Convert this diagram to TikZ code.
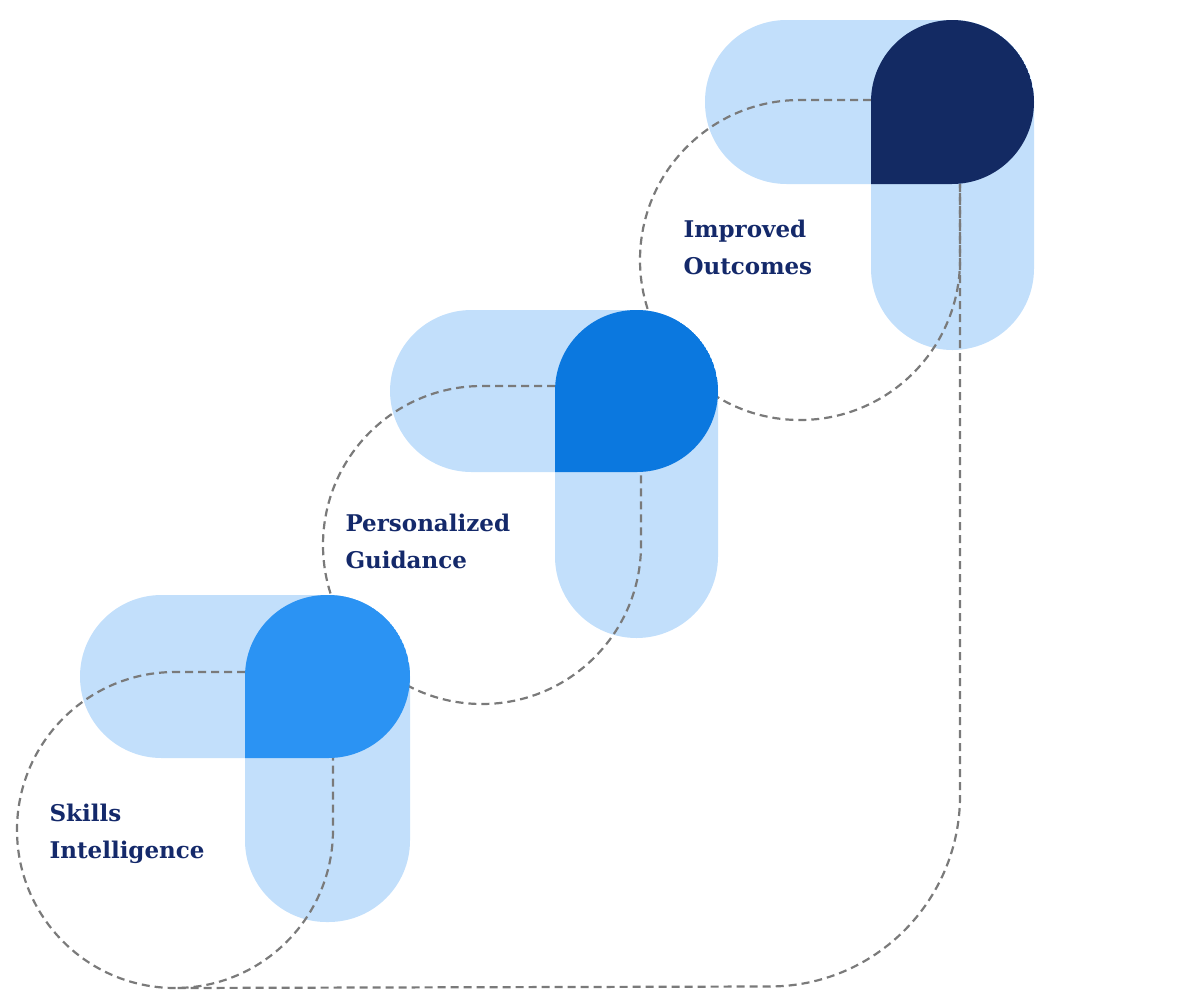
\documentclass[tikz,border=0pt]{standalone}
\usepackage{fontspec}
\setmainfont{DejaVu Serif}
\definecolor{pale}{HTML}{C2DFFB}
\definecolor{stepone}{HTML}{2B93F3}
\definecolor{steptwo}{HTML}{0B78DF}
\definecolor{stepthree}{HTML}{132A63}
\definecolor{navy}{HTML}{14296A}
\definecolor{trail}{HTML}{7A7A7A}

\begin{document}
\begin{tikzpicture}[x=1pt,y=-1pt,
  pill/.style={fill=pale,rounded corners=81.5},
  loop/.style={draw=trail,line width=2.2pt,dash pattern=on 8pt off 5pt},
  caption/.style={anchor=north west,align=left,text=navy,font=\fontsize{23}{37}\selectfont\bfseries}]

\useasboundingbox (0,0) rectangle (1200,994);

% light pills
\fill[pill] (80,595) rectangle (410,758);
\fill[pill] (245,595) rectangle (410,922);
\fill[pill] (390,310) rectangle (718,472);
\fill[pill] (555,310) rectangle (718,638);
\fill[pill] (705,20) rectangle (1034,184);
\fill[pill] (871,20) rectangle (1034,350);

% dashed trail
\draw[loop] (245,672) -- (175,672) arc[start angle=270,end angle=0,radius=158] -- (333,758);
\draw[loop] (555,386) -- (482,386) arc[start angle=270,end angle=0,radius=159] -- (641,472);
\draw[loop] (871,100) -- (800,100) arc[start angle=270,end angle=0,radius=160] -- (960,184);
\draw[loop,rounded corners=190] (960,184) -- (960,986) -- (175,988);

% dark corners
\begin{scope}
  \clip[rounded corners=81.5] (80,595) rectangle (410,758);
  \fill[stepone,rounded corners=81.5] (245,595) rectangle (410,922);
\end{scope}
\begin{scope}
  \clip[rounded corners=81] (390,310) rectangle (718,472);
  \fill[steptwo,rounded corners=81] (555,310) rectangle (718,638);
\end{scope}
\begin{scope}
  \clip[rounded corners=82] (705,20) rectangle (1034,184);
  \fill[stepthree,rounded corners=81.5] (871,20) rectangle (1034,350);
\end{scope}

% labels
\node[caption] (skills) at (46,800) {Skills\\Intelligence};
\node[caption] (guidance) at (342,510) {Personalized\\Guidance};
\node[caption] (outcomes) at (680,216) {Improved\\Outcomes};

\end{tikzpicture}
\end{document}
